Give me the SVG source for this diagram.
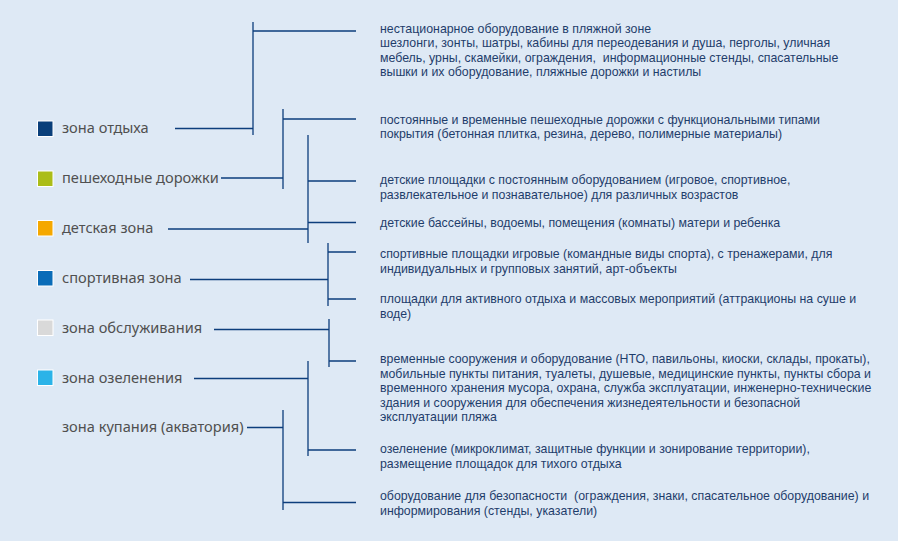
<svg xmlns="http://www.w3.org/2000/svg" width="898" height="541" viewBox="0 0 898 541">
<style>
.bg{fill:#dee9f5}
.sw{stroke:#ffffff;stroke-width:1}
.lbl{font-family:"Noto Sans",sans-serif;font-size:14.6px;fill:#505050}
.desc{font-family:"Liberation Sans",sans-serif;font-size:12.35px;fill:#1e3d6b}
.ln{stroke:#0d3e7c;stroke-width:1.3;fill:none}
</style>
<rect class="bg" x="0" y="0" width="898" height="541"/>
<g id="legend">
<g id="zone-rest"><rect class="sw" x="37.5" y="121" width="15.5" height="15.5" fill="#0a3f7a"/><text class="lbl" x="62" y="133">зона отдыха</text></g>
<g id="zone-paths"><rect class="sw" x="37.5" y="171" width="15.5" height="15.5" fill="#abbd18"/><text class="lbl" x="62" y="183">пешеходные дорожки</text></g>
<g id="zone-kids"><rect class="sw" x="37.5" y="220.5" width="15.5" height="15.5" fill="#f5a800"/><text class="lbl" x="62" y="233">детская зона</text></g>
<g id="zone-sport"><rect class="sw" x="37.5" y="270.5" width="15.5" height="15.5" fill="#0a6cb8"/><text class="lbl" x="62" y="283">спортивная зона</text></g>
<g id="zone-service"><rect class="sw" x="37.5" y="320" width="15.5" height="15.5" fill="#d9d9d9"/><text class="lbl" x="62" y="333">зона обслуживания</text></g>
<g id="zone-green"><rect class="sw" x="37.5" y="370" width="15.5" height="15.5" fill="#2bb3e8"/><text class="lbl" x="62" y="383">зона озеленения</text></g>
<g id="zone-swim"><text class="lbl" x="62" y="432">зона купания (акватория)</text></g>
</g>
<g id="connectors">
<path class="ln" d="M175 128.5H253M253 22V135M253 31H356"/>
<path class="ln" d="M221 178H283M283 109V189M283 119H356"/>
<path class="ln" d="M168 229H308M308 135V243M308 181H356M308 222.5H356"/>
<path class="ln" d="M190 279.5H328M328 243V306M328 252H356M328 299H356"/>
<path class="ln" d="M214 329.5H329M329 319V367M329 361H356"/>
<path class="ln" d="M194 378.5H308M308 361V456M308 450H356"/>
<path class="ln" d="M247 427.5H283M283 410V510M283 502.5H356"/>
</g>
<g id="descriptions">
<g id="d1"><text class="desc" x="380" y="32.5">нестационарное оборудование в пляжной зоне</text>
<text class="desc" x="380" y="47">шезлонги, зонты, шатры, кабины для переодевания и душа, перголы, уличная</text>
<text class="desc" x="380" y="61.5" xml:space="preserve">мебель, урны, скамейки, ограждения,  информационные стенды, спасательные</text>
<text class="desc" x="380" y="76">вышки и их оборудование, пляжные дорожки и настилы</text></g>
<g id="d2"><text class="desc" x="380" y="123.5">постоянные и временные пешеходные дорожки с функциональными типами</text>
<text class="desc" x="380" y="138">покрытия (бетонная плитка, резина, дерево, полимерные материалы)</text></g>
<g id="d3"><text class="desc" x="380" y="184">детские площадки с постоянным оборудованием (игровое, спортивное,</text>
<text class="desc" x="380" y="198.5">развлекательное и познавательное) для различных возрастов</text></g>
<g id="d4"><text class="desc" x="380" y="227">детские бассейны, водоемы, помещения (комнаты) матери и ребенка</text></g>
<g id="d5"><text class="desc" x="380" y="258">спортивные площадки игровые (командные виды спорта), с тренажерами, для</text>
<text class="desc" x="380" y="272.5">индивидуальных и групповых занятий, арт-объекты</text></g>
<g id="d6"><text class="desc" x="380" y="303">площадки для активного отдыха и массовых мероприятий (аттракционы на суше и</text>
<text class="desc" x="380" y="317.5">воде)</text></g>
<g id="d7"><text class="desc" x="380" y="363">временные сооружения и оборудование (НТО, павильоны, киоски, склады, прокаты),</text>
<text class="desc" x="380" y="377.5">мобильные пункты питания, туалеты, душевые, медицинские пункты, пункты сбора и</text>
<text class="desc" x="380" y="392">временного хранения мусора, охрана, служба эксплуатации, инженерно-технические</text>
<text class="desc" x="380" y="406.5">здания и сооружения для обеспечения жизнедеятельности и безопасной</text>
<text class="desc" x="380" y="421">эксплуатации пляжа</text></g>
<g id="d8"><text class="desc" x="380" y="453">озеленение (микроклимат, защитные функции и зонирование территории),</text>
<text class="desc" x="380" y="467.5">размещение площадок для тихого отдыха</text></g>
<g id="d9"><text class="desc" x="380" y="500" xml:space="preserve">оборудование для безопасности  (ограждения, знаки, спасательное оборудование) и</text>
<text class="desc" x="380" y="514.5">информирования (стенды, указатели)</text></g>
</g>
</svg>
